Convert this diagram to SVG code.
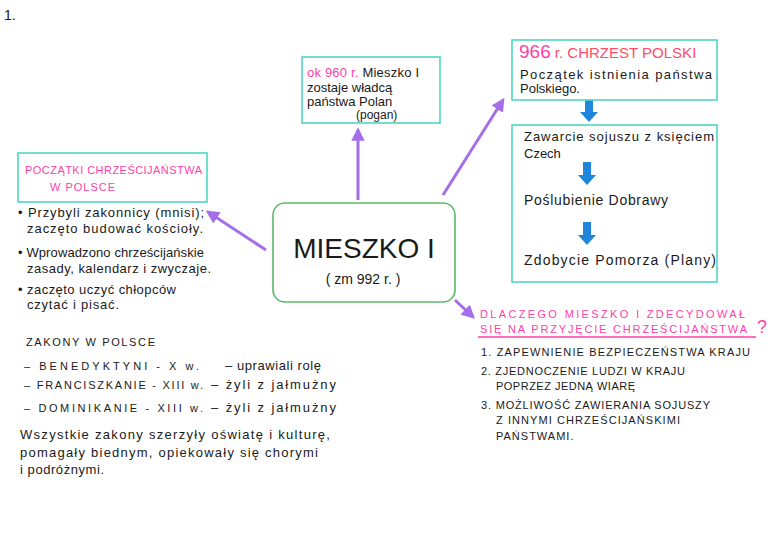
<svg xmlns="http://www.w3.org/2000/svg" width="768" height="543" viewBox="0 0 768 543">
<defs>
<style>
.t{font-family:"Liberation Sans",Arial,sans-serif;font-size:13px;fill:#1a1a1a}
.c{font-family:"Liberation Sans",Arial,sans-serif;font-size:11px;fill:#1a1a1a;letter-spacing:1px}
.p{fill:#ff3fa8}
.r{fill:#ff4d6a}
.box{fill:none;stroke:#4fd6c4;stroke-width:1.6}
.pa{stroke:#a46fe8;stroke-width:3;fill:none;marker-end:url(#pm)}
.ba{fill:#1f86dc}
</style>
<marker id="pm" viewBox="0 0 10 10" refX="8" refY="5" markerWidth="4.5" markerHeight="4.5" orient="auto"><path d="M0,0 L10,5 L0,10 z" fill="#a46fe8"/></marker>
</defs>
<rect width="768" height="543" fill="#fff"/>
<text class="t" x="4" y="20" style="font-size:14px">1.</text>

<g id="connectors">
<line class="pa" x1="358" y1="200" x2="358" y2="130"/>
<line class="pa" x1="443" y1="195" x2="503" y2="100"/>
<line class="pa" x1="266" y1="250" x2="208" y2="212"/>
<line class="pa" x1="455" y1="300" x2="473" y2="317"/>
<path class="ba" d="M585,100 h8 v12 h5 l-9,10 l-9,-10 h5 z"/>
<path class="ba" d="M583,162 h8 v13 h5 l-9,10 l-9,-10 h5 z"/>
<path class="ba" d="M583,222 h8 v13 h5 l-9,10 l-9,-10 h5 z"/>
</g>

<g id="n960">
<rect class="box" x="302" y="57" width="138" height="66"/>
<text class="t" x="307" y="77" textLength="112"><tspan class="p">ok 960 r.</tspan> Mieszko I</text>
<text class="t" x="307" y="92">zostaje władcą</text>
<text class="t" x="307" y="106">państwa Polan</text>
<text class="t" x="356" y="119" style="font-size:12px">(pogan)</text>
</g>

<g id="n966">
<rect class="box" x="512" y="40" width="205" height="60"/>
<text class="t" x="519" y="58" style="font-size:15px"><tspan class="p" style="font-size:19px">966</tspan><tspan class="r"> r. CHRZEST POLSKI</tspan></text>
<text class="t" x="520" y="79" textLength="192">Początek istnienia państwa</text>
<text class="t" x="520" y="93">Polskiego.</text>
</g>

<g id="nsteps">
<rect class="box" x="512" y="125" width="205" height="157"/>
<text class="t" x="524" y="141" textLength="190">Zawarcie sojuszu z księciem</text>
<text class="t" x="524" y="158">Czech</text>
<text class="t" x="524" y="205" style="font-size:14px" textLength="144">Poślubienie Dobrawy</text>
<text class="t" x="524" y="265" style="font-size:14px" textLength="192">Zdobycie Pomorza (Plany)</text>
</g>

<g id="npoczatki">
<rect class="box" x="18" y="153" width="189" height="49"/>
<text class="c p" x="25" y="174" textLength="178">POCZĄTKI CHRZEŚCIJAŃSTWA</text>
<text class="c p" x="50" y="191">W POLSCE</text>
<text class="t" x="18" y="217" textLength="186">• Przybyli zakonnicy (mnisi);</text>
<text class="t" x="27" y="233" textLength="176">zaczęto budować kościoły.</text>
<text class="t" x="18" y="257" textLength="186">• Wprowadzono chrześcijańskie</text>
<text class="t" x="27" y="273" textLength="184">zasady, kalendarz i zwyczaje.</text>
<text class="t" x="18" y="294" textLength="158">• zaczęto uczyć chłopców</text>
<text class="t" x="27" y="309" textLength="92">czytać i pisać.</text>
</g>

<g id="ncenter">
<rect x="273" y="203" width="182" height="99" rx="12" fill="none" stroke="#5cba6a" stroke-width="1.6"/>
<text class="t" x="364" y="258" style="font-size:28px" text-anchor="middle">MIESZKO I</text>
<text class="t" x="363" y="284" style="font-size:14px" text-anchor="middle">( zm 992 r. )</text>
</g>

<g id="nwhy">
<text class="c p" x="480" y="318" textLength="266">DLACZEGO MIESZKO I ZDECYDOWAŁ</text>
<text class="c p" x="480" y="333" textLength="268">SIĘ NA PRZYJĘCIE CHRZEŚCIJAŃSTWA</text>
<text class="p" x="757" y="333" style="font-family:'Liberation Sans',sans-serif;font-size:18px">?</text>
<line x1="478" y1="337" x2="756" y2="337" stroke="#ff3fa8" stroke-width="1.5"/>
<text class="c" x="481" y="356" textLength="270">1. ZAPEWNIENIE BEZPIECZEŃSTWA KRAJU</text>
<text class="c" x="481" y="375" textLength="205">2. ZJEDNOCZENIE LUDZI W KRAJU</text>
<text class="c" x="496" y="390" textLength="140">POPRZEZ JEDNĄ WIARĘ</text>
<text class="c" x="481" y="409" textLength="230">3. MOŻLIWOŚĆ ZAWIERANIA SOJUSZY</text>
<text class="c" x="496" y="424" textLength="185">Z INNYMI CHRZEŚCIJAŃSKIMI</text>
<text class="c" x="496" y="440">PAŃSTWAMI.</text>
</g>

<g id="nzakony">
<text class="c" x="26" y="346" textLength="130">ZAKONY W POLSCE</text>
<text class="c" x="24" y="370" textLength="176">– BENEDYKTYNI  -   X w.</text>
<text class="t" x="225" y="370" textLength="96">– uprawiali rolę</text>
<text class="c" x="24" y="389" textLength="180">– FRANCISZKANIE  -  XIII w.</text>
<text class="t" x="211" y="389" textLength="125">– żyli z jałmużny</text>
<text class="c" x="24" y="412" textLength="180">– DOMINIKANIE  -  XIII w.</text>
<text class="t" x="211" y="412" textLength="125">– żyli z jałmużny</text>
<text class="t" x="20" y="439" textLength="310">Wszystkie zakony szerzyły oświatę i kulturę,</text>
<text class="t" x="20" y="457" textLength="298">pomagały biednym, opiekowały się chorymi</text>
<text class="t" x="20" y="474" textLength="84">i podróżnymi.</text>
</g>
</svg>
